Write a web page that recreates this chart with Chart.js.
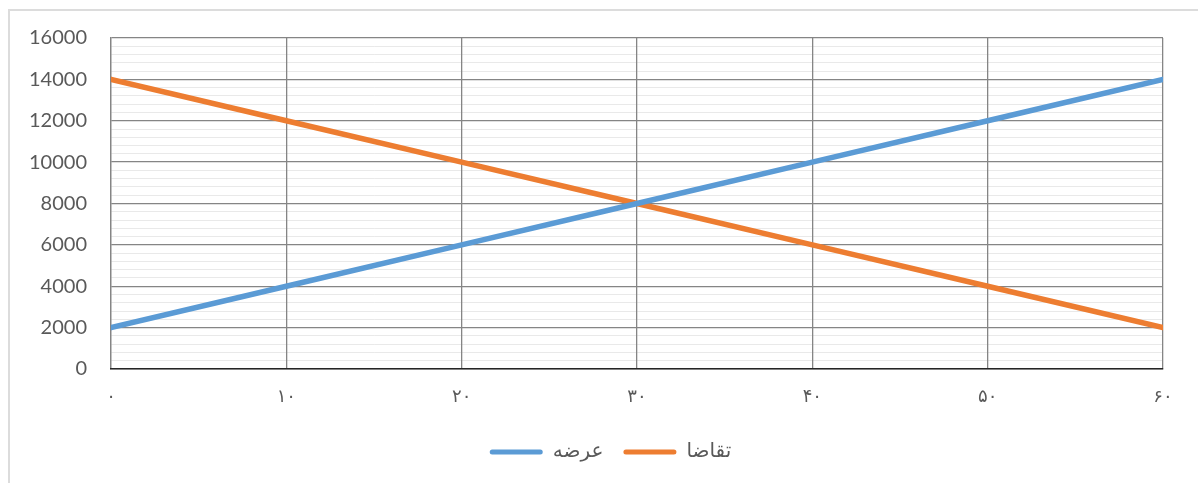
<!DOCTYPE html>
<html>
<head>
<meta charset="utf-8">
<script src="https://cdn.jsdelivr.net/npm/chart.js@4/dist/chart.umd.min.js"></script>
<style>
  html, body { margin: 0; padding: 0; background: #ffffff; overflow: hidden; }
  #frame { position: absolute; left: 8px; top: 9px; width: 1400px; height: 700px;
           border-left: 2px solid #dcdcdc; border-top: 2px solid #dcdcdc; }
  #wrap { position: absolute; left: 0; top: 0; width: 1198px; height: 483px; }
</style>
</head>
<body>
<div id="frame"></div>
<div id="wrap"><canvas id="c" width="1198" height="483"></canvas></div>
<script>
// ---- data ----
const xValues = [0, 10, 20, 30, 40, 50, 60];
const supplyValues = [2000, 4000, 6000, 8000, 10000, 12000, 14000];   // عرضه
const demandValues = [14000, 12000, 10000, 8000, 6000, 4000, 2000];   // تقاضا
const seriesNames = ['عرضه', 'تقاضا'];
const yTickLabels = [0, 2000, 4000, 6000, 8000, 10000, 12000, 14000, 16000];

const persianDigits = ['۰','۱','۲','۳','۴','۵','۶','۷','۸','۹'];
function toPersian(n) { return String(n).replace(/[0-9]/g, d => persianDigits[+d]); }

const blue = '#5B9BD5';
const orange = '#ED7D31';
const majorGrid = '#858585';
const minorGrid = '#e9e9e9';

// centre the legend under the whole chart frame (as in the reference) rather than the canvas
const legendShift = {
  id: 'legendShift',
  afterLayout(chart) {
    const lg = chart.legend;
    if (lg) { lg.left += 29; lg.right += 29; }
  }
};

const ctx = document.getElementById('c').getContext('2d');
new Chart(ctx, {
  type: 'line',
  data: {
    datasets: [
      { label: seriesNames[0], data: xValues.map((x, i) => ({x, y: supplyValues[i]})),
        borderColor: blue, backgroundColor: blue, borderWidth: 5.5, pointRadius: 0, tension: 0,
        borderCapStyle: 'round' },
      { label: seriesNames[1], data: xValues.map((x, i) => ({x, y: demandValues[i]})),
        borderColor: orange, backgroundColor: orange, borderWidth: 5.5, pointRadius: 0, tension: 0,
        borderCapStyle: 'round' }
    ]
  },
  plugins: [legendShift],
  options: {
    responsive: false,
    animation: false,
    devicePixelRatio: 1,
    layout: { padding: { left: 0, right: 35, top: 38, bottom: 11 } },
    plugins: {
      tooltip: { enabled: false },
      legend: {
        position: 'bottom',
        labels: {
          color: '#595959',
          font: { family: "'DejaVu Sans', sans-serif", size: 20 },
          boxWidth: 53, boxHeight: 5, padding: 20,
          useBorderRadius: true, borderRadius: 2.5,
          generateLabels(chart) {
            const items = Chart.defaults.plugins.legend.labels.generateLabels(chart);
            items.forEach(it => { it.lineWidth = 0; it.strokeStyle = 'rgba(0,0,0,0)'; });
            return items;
          }
        }
      }
    },
    scales: {
      y: {
        min: 0, max: 16000,
        afterFit(scale) { scale.width = 111; },
        ticks: {
          stepSize: 400, autoSkip: false, color: '#595959', padding: 24,
          font: { family: "Lato, sans-serif", size: 20 },
          callback: v => (Math.round(v) % 2000 === 0 && yTickLabels.includes(Math.round(v))) ? String(Math.round(v)) : ''
        },
        grid: {
          z: -2,
          drawTicks: false,
          color: c => (Math.round(c.tick.value) % 2000 === 0) ? majorGrid : minorGrid,
          lineWidth: c => (Math.round(c.tick.value) % 2000 === 0) ? 1.3 : 1
        },
        border: { color: majorGrid, width: 1.3 }
      },
      x: {
        type: 'linear', min: 0, max: 60,
        afterFit(scale) { scale.height = 53; },
        ticks: {
          stepSize: 10, color: '#595959', padding: 18,
          font: { family: "'DejaVu Sans', sans-serif", size: 18 },
          callback: v => toPersian(v), maxRotation: 0
        },
        grid: { z: -1, color: majorGrid, lineWidth: 1.3, drawTicks: false },
        border: { color: '#262626', width: 1.6 }
      }
    }
  }
});
</script>
</body>
</html>
